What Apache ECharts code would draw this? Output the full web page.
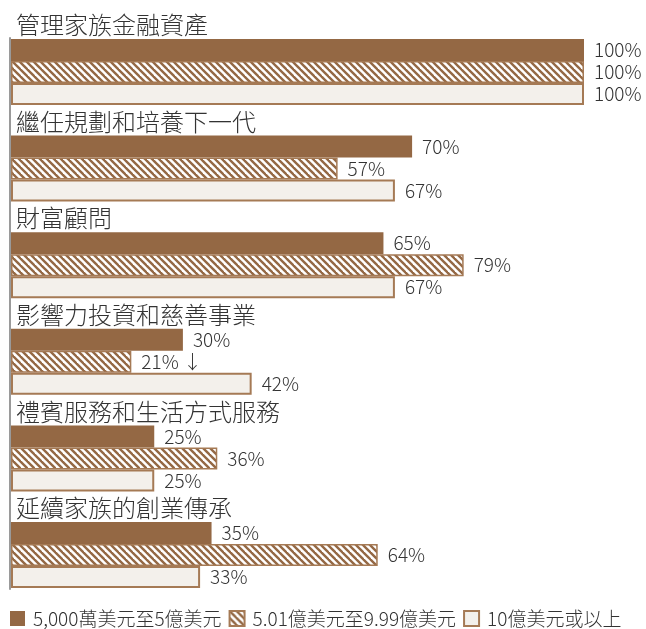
<!DOCTYPE html>
<html>
<head>
<meta charset="utf-8">
<script src="https://cdn.jsdelivr.net/npm/echarts@6/dist/echarts.min.js"></script>
<style>
  html, body { margin: 0; padding: 0; background: #ffffff; }
  #chart { width: 646px; height: 629px; }
</style>
</head>
<body>
<div id="chart"></div>
<script>
// Service categories, top to bottom
const categories = [
  '管理家族金融資產',
  '繼任規劃和培養下一代',
  '財富顧問',
  '影響力投資和慈善事業',
  '禮賓服務和生活方式服務',
  '延續家族的創業傳承'
];

// Wealth tiers (legend entries)
const tierNames = ['5,000萬美元至5億美元', '5.01億美元至9.99億美元', '10億美元或以上'];

// Share of family offices offering each service (%)
const tierA = [100, 70, 65, 30, 25, 35];
const tierB = [100, 57, 79, 21, 36, 64];
const tierC = [100, 67, 67, 42, 25, 33];

// Extra marks appended after a value label
const tierBNotes = ['', '', '', ' ↓', '', ''];

const FONT = 'Noto Sans CJK TC';
const WEIGHT = 300;
const INK = '#333333';
const BROWN = '#946844';
const EDGE = '#a57a55';
const PALE = '#f3f0eb';

// Diagonal stripe tile for the middle tier
function stripeTile() {
  const s = 7;
  const c = document.createElement('canvas');
  c.width = s; c.height = s;
  const g = c.getContext('2d');
  g.fillStyle = '#ffffff';
  g.fillRect(0, 0, s, s);
  g.strokeStyle = BROWN;
  g.lineWidth = 2.4;
  for (let k = -1; k <= 1; k++) {
    g.beginPath();
    g.moveTo(k * s - 1, -1);
    g.lineTo(k * s + s + 1, s + 1);
    g.stroke();
  }
  return c;
}

const valueLabel = (notes) => ({
  show: true,
  position: 'right',
  distance: 10,
  fontFamily: FONT,
  fontWeight: WEIGHT,
  fontSize: 19,
  color: INK,
  formatter: (p) => p.value + '%' + (notes ? notes[p.dataIndex] : '')
});

const chart = echarts.init(document.getElementById('chart'), null, { renderer: 'canvas' });

chart.setOption({
  animation: false,
  textStyle: { fontFamily: FONT, fontWeight: WEIGHT },
  grid: [
    { left: 11, top: 12.7, width: 573, height: 579.6, containLabel: false },
    { left: 10, top: 38, width: 100, height: 551, containLabel: false }
  ],
  xAxis: [
    { gridIndex: 0, type: 'value', min: 0, max: 100, show: false },
    { gridIndex: 1, type: 'value', min: 0, max: 1, show: false }
  ],
  yAxis: [
    {
      gridIndex: 0, type: 'category', data: categories, inverse: true,
      axisLine: { show: false }, axisTick: { show: false }, axisLabel: { show: false },
      splitLine: { show: false }
    },
    {
      // vertical baseline running from the first bar to the last
      gridIndex: 1, type: 'value', min: 0, max: 1,
      axisLine: { show: true, onZero: false, lineStyle: { color: '#9a9a9a', width: 2 } },
      axisTick: { show: false }, axisLabel: { show: false }, splitLine: { show: false }
    }
  ],
  legend: {
    data: tierNames,
    left: 10,
    top: 609,
    padding: 0,
    itemWidth: 15,
    itemHeight: 15,
    itemGap: 7,
    icon: 'rect',
    textStyle: { fontFamily: FONT, fontWeight: WEIGHT, fontSize: 19, color: INK, padding: [0, 0, 0, 3] }
  },
  series: [
    {
      // category titles sit in an empty slot above each group of bars
      name: 'category',
      type: 'bar',
      xAxisIndex: 0, yAxisIndex: 0,
      data: categories.map(() => 0),
      barWidth: 22,
      barGap: '0%',
      silent: true,
      itemStyle: { color: 'rgba(0,0,0,0)' },
      label: {
        show: true,
        position: 'right',
        distance: 5,
        offset: [0, -3],
        fontFamily: FONT,
        fontWeight: WEIGHT,
        fontSize: 24,
        color: INK,
        formatter: (p) => categories[p.dataIndex]
      }
    },
    {
      name: tierNames[0],
      type: 'bar',
      data: tierA,
      barWidth: 22,
      barGap: '0%',
      itemStyle: { color: BROWN },
      label: valueLabel(null)
    },
    {
      name: tierNames[1],
      type: 'bar',
      data: tierB,
      barWidth: 22,
      barGap: '0%',
      itemStyle: { color: { image: stripeTile(), repeat: 'repeat' }, borderColor: EDGE, borderWidth: 1.5 },
      label: valueLabel(tierBNotes)
    },
    {
      name: tierNames[2],
      type: 'bar',
      data: tierC,
      barWidth: 22,
      barGap: '0%',
      itemStyle: { color: PALE, borderColor: EDGE, borderWidth: 2 },
      label: valueLabel(null)
    }
  ]
});
</script>
</body>
</html>
